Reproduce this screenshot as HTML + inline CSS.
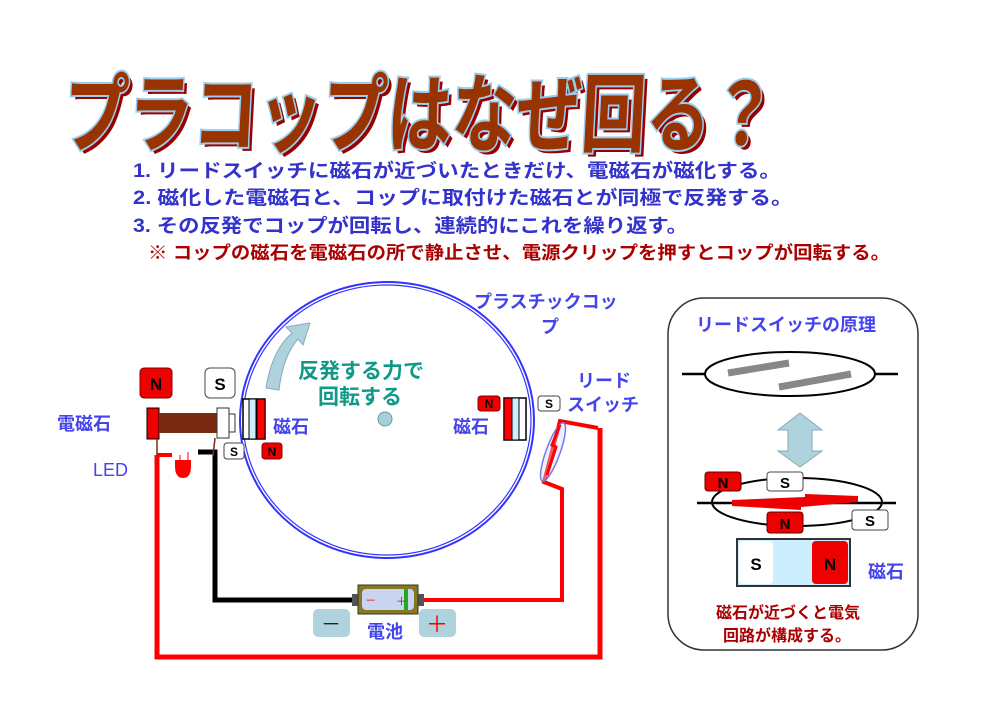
<!DOCTYPE html>
<html><head><meta charset="utf-8"><style>
html,body{margin:0;padding:0;background:#fff;}
svg{display:block;}
text{font-family:"Liberation Sans","Noto Sans CJK JP",sans-serif;}
</style></head><body>
<svg width="1000" height="720" viewBox="0 0 1000 720" xmlns="http://www.w3.org/2000/svg">
<rect width="1000" height="720" fill="#fff"/>
<!-- Title -->
<g transform="translate(62,145) skewX(-3)">
<text x="4" y="4" font-size="86" font-weight="bold" textLength="712" lengthAdjust="spacingAndGlyphs" fill="#990000">プラコップはなぜ回る？</text>
<text x="0" y="0" font-size="86" font-weight="bold" textLength="712" lengthAdjust="spacingAndGlyphs" fill="#993300" stroke="#99ccee" stroke-width="4" paint-order="stroke">プラコップはなぜ回る？</text>
</g>
<!-- Lines -->
<g font-size="19" font-weight="bold" fill="#3333cc">
<text x="133" y="177" textLength="648" lengthAdjust="spacingAndGlyphs">1. リードスイッチに磁石が近づいたときだけ、電磁石が磁化する。</text>
<text x="133" y="204" textLength="660" lengthAdjust="spacingAndGlyphs">2. 磁化した電磁石と、コップに取付けた磁石とが同極で反発する。</text>
<text x="133" y="232" textLength="555" lengthAdjust="spacingAndGlyphs">3. その反発でコップが回転し、連続的にこれを繰り返す。</text>
</g>
<text x="148" y="259" font-size="18" font-weight="bold" fill="#aa0000" textLength="742" lengthAdjust="spacingAndGlyphs">※ コップの磁石を電磁石の所で静止させ、電源クリップを押すとコップが回転する。</text>

<!-- Wires -->
<polyline points="157,455 157,657 600,657 600,428" fill="none" stroke="#ff0000" stroke-width="5"/>
<polyline points="420,600 562,600 562,489 544,482 560,421 598,428" fill="none" stroke="#ff0000" stroke-width="4"/>
<polyline points="198,452 215,452 215,600 358,600" fill="none" stroke="#000" stroke-width="5"/>
<polyline points="157,455 172,455" fill="none" stroke="#ff0000" stroke-width="4"/>
<ellipse cx="553" cy="452" rx="7" ry="31" transform="rotate(20 553 452)" fill="#ccddff" fill-opacity="0.4" stroke="#7777ee" stroke-width="1.5"/>
<polyline points="560,425 552,445 556,447 547,475" fill="none" stroke="#ff0000" stroke-width="3"/>

<!-- Cup -->
<ellipse cx="387" cy="420" rx="147" ry="138" fill="none" stroke="#3333ff" stroke-width="2"/>
<ellipse cx="387" cy="420" rx="144" ry="135" fill="none" stroke="#3333ff" stroke-width="1.2"/>
<circle cx="385" cy="419" r="7" fill="#a8d0d8" stroke="#6699aa"/>
<path d="M266,388 Q272,350 292,333 L286,327 L310,323 L303,345 L298,339 Q283,356 279,390 Z" fill="#aed3dc" stroke="#88aabb"/>
<text x="298" y="378" font-size="21" font-weight="bold" fill="#119988">反発する力で</text>
<text x="318" y="404" font-size="21" font-weight="bold" fill="#119988">回転する</text>
<text x="474" y="308" font-size="18" font-weight="bold" fill="#4444ee">プラスチックコッ</text>
<text x="541" y="333" font-size="18" font-weight="bold" fill="#4444ee">プ</text>

<!-- left cup magnet -->
<rect x="243" y="399" width="22" height="40" fill="#fff" stroke="#000" stroke-width="1.5"/>
<rect x="249" y="399" width="7" height="40" fill="#cceeff" stroke="#000" stroke-width="1"/>
<rect x="257" y="399" width="8" height="40" fill="#ff0000" stroke="#000" stroke-width="1"/>
<text x="273" y="433" font-size="18" font-weight="bold" fill="#4444ee">磁石</text>
<rect x="224" y="443" width="20" height="16" rx="3" fill="#fff" stroke="#444"/>
<text x="234" y="456" font-size="12" font-weight="bold" text-anchor="middle">S</text>
<rect x="262" y="443" width="20" height="16" rx="3" fill="#e00" stroke="#800"/>
<text x="272" y="456" font-size="12" font-weight="bold" text-anchor="middle">N</text>
<!-- right cup magnet -->
<rect x="504" y="398" width="22" height="42" fill="#fff" stroke="#000" stroke-width="1.5"/>
<rect x="504" y="398" width="8" height="42" fill="#ff0000" stroke="#000" stroke-width="1"/>
<rect x="512" y="398" width="7" height="42" fill="#cceeff" stroke="#000" stroke-width="1"/>
<rect x="478" y="396" width="22" height="15" rx="3" fill="#e00" stroke="#800"/>
<text x="489" y="408" font-size="12" font-weight="bold" text-anchor="middle">N</text>
<rect x="538" y="396" width="22" height="15" rx="3" fill="#fff" stroke="#444"/>
<text x="549" y="408" font-size="12" font-weight="bold" text-anchor="middle">S</text>
<text x="453" y="433" font-size="18" font-weight="bold" fill="#4444ee">磁石</text>
<text x="577" y="387" font-size="18" font-weight="bold" fill="#4444ee">リード</text>
<text x="567" y="411" font-size="18" font-weight="bold" fill="#4444ee">スイッチ</text>

<!-- electromagnet -->
<rect x="140" y="368" width="32" height="30" rx="4" fill="#ee0000" stroke="#880000"/>
<text x="156" y="390" font-size="17" font-weight="bold" text-anchor="middle">N</text>
<rect x="205" y="368" width="30" height="30" rx="5" fill="#fff" stroke="#444"/>
<text x="220" y="390" font-size="17" font-weight="bold" text-anchor="middle">S</text>
<rect x="147" y="408" width="12" height="31" fill="#ee0000" stroke="#000"/>
<rect x="159" y="413" width="58" height="20" fill="#7a2a10"/>
<rect x="217" y="408" width="12" height="30" fill="#fff" stroke="#333"/>
<rect x="229" y="414" width="6" height="18" fill="#fff" stroke="#333"/>
<line x1="157" y1="439" x2="157" y2="455" stroke="#7a2a10" stroke-width="1.5"/>
<line x1="215" y1="438" x2="213" y2="456" stroke="#7a2a10" stroke-width="1.5"/>
<text x="57" y="430" font-size="18" font-weight="bold" fill="#4444ee">電磁石</text>
<path d="M175,466 L175,460 L191,460 L191,466 Q191,478 183,478 Q175,478 175,466 Z" fill="#ff0000"/>
<line x1="180" y1="455" x2="180" y2="460" stroke="#f00"/>
<line x1="188" y1="452" x2="188" y2="460" stroke="#f00"/>
<text x="93" y="476" font-size="18" fill="#4444ee">LED</text>

<!-- battery -->
<rect x="352" y="594" width="8" height="12" fill="#555"/>
<rect x="416" y="594" width="8" height="12" fill="#555"/>
<rect x="358" y="585" width="60" height="29" fill="#887722" stroke="#333"/>
<rect x="362" y="589" width="52" height="21" rx="4" fill="#c8d4f0"/>
<rect x="404" y="589" width="4" height="21" fill="#22aa22"/>
<text x="365" y="604" font-size="11" fill="#f00">－</text>
<text x="396" y="605" font-size="11" fill="#f00">＋</text>
<rect x="313" y="609" width="37" height="28" rx="5" fill="#aed3dc"/>
<text x="331" y="631" font-size="20" text-anchor="middle" fill="#222">－</text>
<rect x="419" y="609" width="37" height="28" rx="5" fill="#aed3dc"/>
<text x="437" y="632" font-size="22" text-anchor="middle" fill="#f00">＋</text>
<text x="367" y="638" font-size="18" font-weight="bold" fill="#4444ee">電池</text>

<!-- right panel -->
<rect x="668" y="298" width="250" height="352" rx="36" fill="#fff" stroke="#333" stroke-width="1.5"/>
<text x="696" y="331" font-size="18" font-weight="bold" fill="#4444ee">リードスイッチの原理</text>
<line x1="682" y1="374" x2="898" y2="374" stroke="#000" stroke-width="2.5"/>
<ellipse cx="790" cy="374" rx="85" ry="22" fill="#fff" stroke="#000" stroke-width="2"/>
<line x1="728" y1="373" x2="789" y2="363" stroke="#888" stroke-width="7"/>
<line x1="779" y1="387" x2="851" y2="374" stroke="#888" stroke-width="7"/>
<polygon points="800,413 822,430 812,430 812,451 822,451 800,467 778,451 788,451 788,430 778,430" fill="#aed3dc" stroke="#88aabb"/>
<line x1="697" y1="503" x2="896" y2="503" stroke="#000" stroke-width="2.5"/>
<ellipse cx="797" cy="502" rx="85" ry="24" fill="none" stroke="#000" stroke-width="2"/>
<polygon points="732,500 805,497 805,494 858,496 858,502 801,507 801,510 732,506" fill="#ee0000"/>
<rect x="705" y="472" width="36" height="19" rx="3" fill="#e00" stroke="#600"/>
<text x="723" y="488" font-size="15" font-weight="bold" text-anchor="middle">N</text>
<rect x="767" y="472" width="36" height="19" rx="3" fill="#fff" stroke="#444"/>
<text x="785" y="488" font-size="15" font-weight="bold" text-anchor="middle">S</text>
<rect x="767" y="512" width="36" height="21" rx="3" fill="#e00" stroke="#600"/>
<text x="785" y="529" font-size="15" font-weight="bold" text-anchor="middle">N</text>
<rect x="852" y="510" width="36" height="20" rx="3" fill="#fff" stroke="#444"/>
<text x="870" y="526" font-size="15" font-weight="bold" text-anchor="middle">S</text>
<rect x="737" y="539" width="113" height="47" fill="#cceeff" stroke="#333" stroke-width="2"/>
<rect x="739" y="541" width="34" height="43" rx="4" fill="#fff"/>
<rect x="812" y="541" width="36" height="43" rx="4" fill="#e00"/>
<text x="756" y="570" font-size="17" font-weight="bold" text-anchor="middle">S</text>
<text x="830" y="570" font-size="17" font-weight="bold" text-anchor="middle">N</text>
<text x="868" y="578" font-size="18" font-weight="bold" fill="#4444ee">磁石</text>
<text x="716" y="618" font-size="16" font-weight="bold" fill="#aa0000">磁石が近づくと電気</text>
<text x="723" y="641" font-size="16" font-weight="bold" fill="#aa0000">回路が構成する。</text>
</svg>
</body></html>
